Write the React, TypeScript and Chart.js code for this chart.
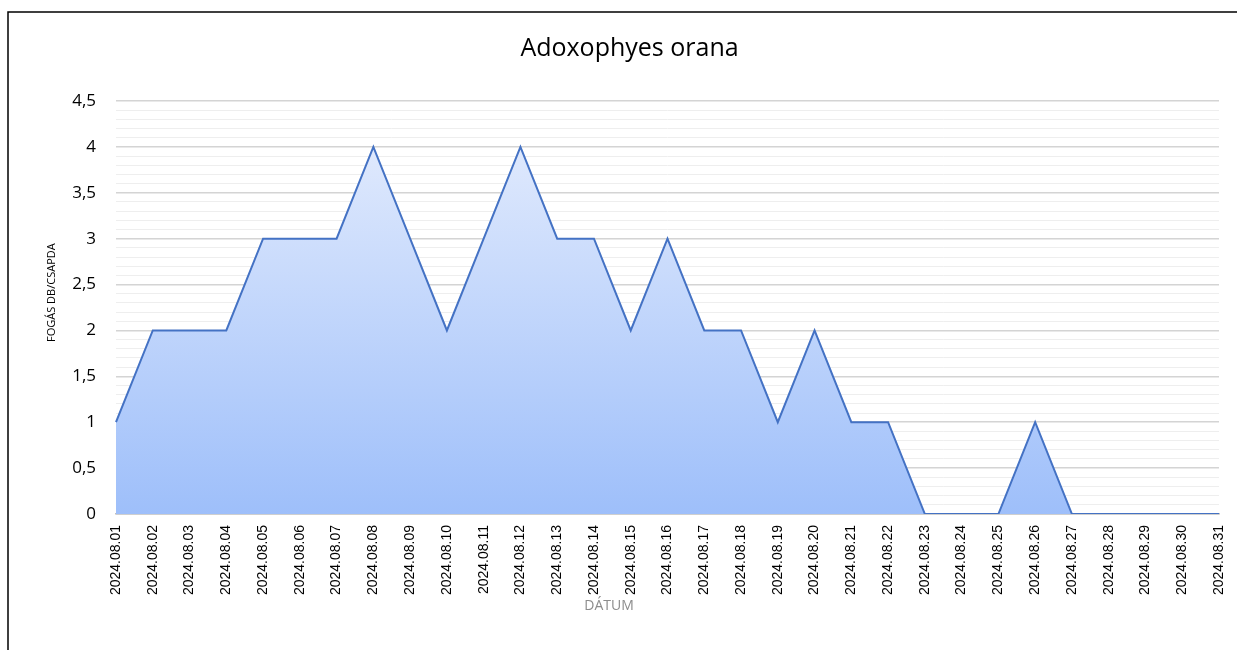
import React, { useEffect, useRef } from "react";
import { Chart, registerables } from "chart.js";

Chart.register(...registerables);

const categories = [
  "2024.08.01", "2024.08.02", "2024.08.03", "2024.08.04", "2024.08.05", "2024.08.06",
  "2024.08.07", "2024.08.08", "2024.08.09", "2024.08.10", "2024.08.11", "2024.08.12",
  "2024.08.13", "2024.08.14", "2024.08.15", "2024.08.16", "2024.08.17", "2024.08.18",
  "2024.08.19", "2024.08.20", "2024.08.21", "2024.08.22", "2024.08.23", "2024.08.24",
  "2024.08.25", "2024.08.26", "2024.08.27", "2024.08.28", "2024.08.29", "2024.08.30",
  "2024.08.31",
];

const catches = [
  1, 2, 2, 2, 3, 3, 3, 4, 3, 2, 3, 4, 3, 3, 2, 3, 2, 2, 1, 2, 1, 1, 0, 0, 0, 1, 0, 0, 0, 0, 0,
];

const chartTitle = "Adoxophyes orana";
const yTitle = "FOGÁS DB/CSAPDA";
const xTitle = "DÁTUM";
const yMax = 4.5;
const yMinorStep = 0.1;

const App = () => {
  const ref = useRef<HTMLCanvasElement | null>(null);

  useEffect(() => {
    document.body.style.margin = "0";
    const canvas = ref.current;
    if (!canvas) return;

    const framePlugin = {
      id: "frame",
      afterDraw(chart: any) {
        const ctx = chart.ctx;
        const a = chart.chartArea;
        ctx.save();
        ctx.strokeStyle = "#000";
        ctx.lineWidth = 1.5;
        ctx.beginPath();
        ctx.moveTo(8, 650);
        ctx.lineTo(8, 12);
        ctx.lineTo(1237, 12);
        ctx.stroke();
        // x axis title
        ctx.fillStyle = "#8c8c8c";
        ctx.font = "14px 'Open Sans'";
        ctx.textAlign = "center";
        ctx.textBaseline = "middle";
        ctx.fillText(xTitle, a.left + (a.right - a.left) * 0.447, 606);
        // y axis title
        ctx.fillStyle = "#000";
        ctx.font = "11px 'Open Sans'";
        ctx.translate(52, a.top + (a.bottom - a.top) * 0.464);
        ctx.rotate(-Math.PI / 2);
        ctx.fillText(yTitle, 0, 0);
        ctx.restore();
      },
    };

    const chart = new Chart(canvas, {
      type: "line",
      data: {
        labels: categories,
        datasets: [
          {
            data: catches,
            borderColor: "#4472C4",
            borderWidth: 2,
            pointRadius: 0,
            tension: 0,
            fill: "origin",
            backgroundColor: (c: any) => {
              const ch = c.chart;
              const a = ch.chartArea;
              if (!a) return "#c0d4fb";
              const ys = ch.scales.y;
              const g = ch.ctx.createLinearGradient(0, ys.getPixelForValue(4), 0, ys.getPixelForValue(0));
              g.addColorStop(0, "#dfe9fd");
              g.addColorStop(1, "#9ebffa");
              return g;
            },
          },
        ],
      },
      plugins: [framePlugin],
      options: {
        responsive: false,
        animation: false,
        layout: { padding: { top: 12, left: 40, right: 18, bottom: 10 } },
        plugins: {
          legend: { display: false },
          tooltip: { enabled: false },
          title: {
            display: true,
            text: chartTitle,
            color: "#000",
            font: { family: "'Open Sans'", size: 25, weight: "normal" },
            padding: { top: 22, bottom: 37 },
          },
        },
        scales: {
          x: {
            type: "category",
            offset: false,
            grid: { display: false, drawTicks: false },
            border: { display: true, color: "#bfbfbf", width: 1.5 },
            ticks: {
              autoSkip: false,
              maxRotation: 90,
              minRotation: 90,
              padding: 11,
              color: "#000",
              font: { family: "Liberation Sans", size: 14 },
            },
            afterFit: (s: any) => {
              s.height = 126;
              s.paddingRight = 0;
              s.paddingLeft = 0;
            },
          },
          y: {
            min: 0,
            max: yMax,
            border: { display: false },
            grid: {
              drawTicks: false,
              color: (c: any) => {
                const v = Math.round(c.tick.value * 10);
                if (v === 0) return "#bfbfbf";
                return v % 5 === 0 ? "#d4d4d4" : "#eeeeee";
              },
              lineWidth: (c: any) => {
                const v = Math.round(c.tick.value * 10);
                return v % 5 === 0 ? 1.5 : 1;
              },
            },
            ticks: {
              stepSize: yMinorStep,
              autoSkip: false,
              padding: 20,
              color: "#000",
              font: { family: "'Open Sans'", size: 17 },
              callback: (v: any) => {
                const t = Math.round(Number(v) * 10);
                if (t % 5 !== 0) return "";
                return String(t / 10).replace(".", ",");
              },
            },
            afterFit: (s: any) => {
              s.width = 76;
            },
          },
        },
      },
    } as any);

    return () => chart.destroy();
  }, []);

  return (
    <div style={{ position: "absolute", left: 0, top: 0, width: 1237, height: 650 }}>
      <canvas ref={ref} width={1237} height={650} />
    </div>
  );
};

export default App;
